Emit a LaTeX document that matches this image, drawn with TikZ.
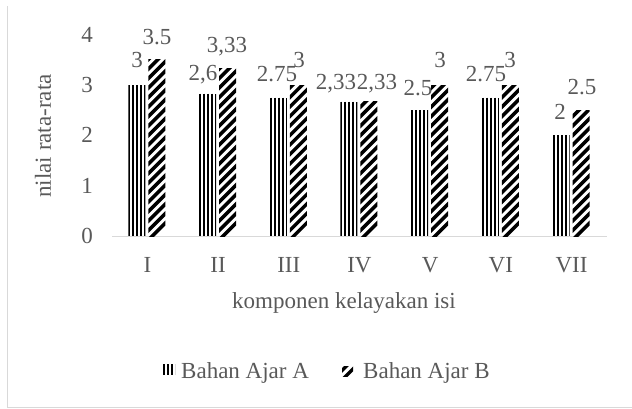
\documentclass[tikz,border=0pt]{standalone}
\usepackage{fontspec}
\setmainfont{Liberation Serif}
\definecolor{tgray}{HTML}{595959}
\definecolor{lgray}{HTML}{D9D9D9}
\newcommand\vstripes[4]{% left, right, top, bottom
  \begin{scope}
    \clip (#1,#4) rectangle (#2,#3);
    \fill[white] (#1,#4) rectangle (#2,#3);
    \foreach \k in {0,...,5} \draw[line width=2pt,black] ({#1+1+4*\k},#3) -- ({#1+1+4*\k},#4);
  \end{scope}}
\newcommand\dstripes[4]{% left, right, top, bottom
  \begin{scope}
    \clip (#1,#4) rectangle (#2,#3);
    \fill[white] (#1,#4) rectangle (#2,#3);
    \foreach \k in {0,...,32} \draw[line width=3.5pt,black] ({#1-20},{#4-9.5*\k+24}) -- ({#1+20},{#4-9.5*\k-16});
  \end{scope}}
\begin{document}
\begin{tikzpicture}[x=1pt,y=-1pt,
  txt/.style={text=tgray,font=\fontsize{23}{27}\selectfont,inner sep=0pt},
  lbl/.style={txt,anchor=base}]
\useasboundingbox (0,0) rectangle (632,408);
% frame
\draw[lgray,line width=1pt] (7,6) -- (7,407) -- (632,407);
% axis line
\coordinate (ax0) at (112,236);
\coordinate (ax1) at (607,236);
\draw[lgray,line width=1pt] (ax0) -- (ax1);
% tick labels
\foreach \v in {0,...,4} {
  \node[txt,anchor=base east] (t\v) at (93,{236-50.3*\v+7.5}) {\v};
}
% bars
\foreach \i/\a/\b/\n in {0/3/3.5/I,1/2.83/3.33/II,2/2.75/3/III,3/2.67/2.67/IV,4/2.5/3/V,5/2.75/3/VI,6/2/2.5/VII} {
  \pgfmathsetmacro\c{112+70.7*(\i+0.5)}
  \pgfmathsetmacro\ta{236-50.3*\a}
  \pgfmathsetmacro\tb{236-50.3*\b}
  \vstripes{\c-19}{\c-2}{\ta}{236}
  \dstripes{\c+1}{\c+18}{\tb}{236}
  \node[lbl] (cat\i) at (\c,272) {\n};
}
% data labels
\node[lbl] (dA1) at (137,67.5) {3};
\node[lbl] (dB1) at (157,44.5) {3.5};
\node[lbl] (dA2) at (203,80.5) {2,6};
\node[lbl] (dB2) at (227,52.5) {3,33};
\node[lbl] (dA3) at (277,81.5) {2.75};
\node[lbl] (dB3) at (299,67.5) {3};
\node[lbl] (dA4) at (336,89.5) {2,33};
\node[lbl] (dB4) at (377,89.5) {2,33};
\node[lbl] (dA5) at (418,95.5) {2.5};
\node[lbl] (dB5) at (440,67.5) {3};
\node[lbl] (dA6) at (486,81.5) {2.75};
\node[lbl] (dB6) at (510,67.5) {3};
\node[lbl] (dA7) at (560,119.5) {2};
\node[lbl] (dB7) at (582,94.5) {2.5};
% axis titles
\node[txt,rotate=90] (ytitle) at (43,136) {nilai rata-rata};
\node[lbl] (xtitle) at (344,308) {komponen kelayakan isi};
% legend
\vstripes{163}{175}{364}{375}
\node[txt,anchor=base west] (legA) at (181,378) {Bahan Ajar A};
\dstripes{342}{353}{366}{376}
\node[txt,anchor=base west] (legB) at (363,378) {Bahan Ajar B};
\end{tikzpicture}
\end{document}
